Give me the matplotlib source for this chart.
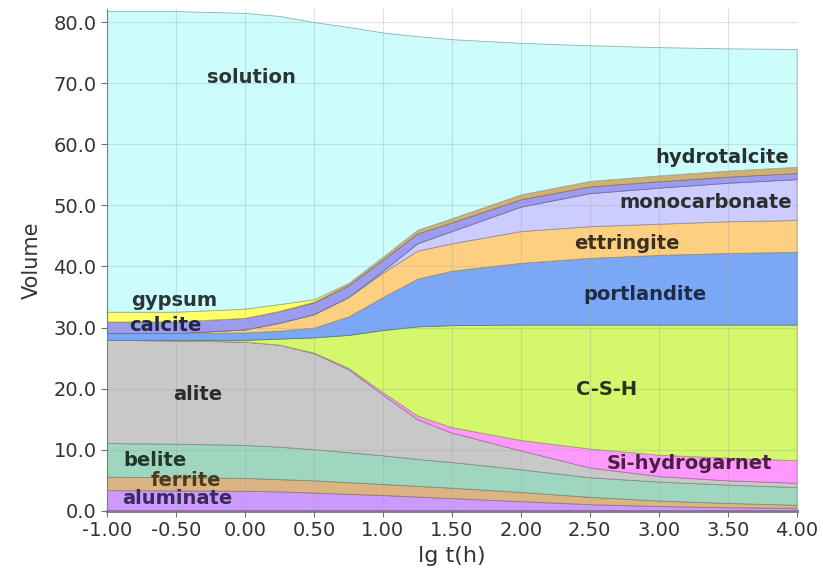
import matplotlib
matplotlib.use("Agg")
import matplotlib.pyplot as plt
import matplotlib.colors as mcolors
import numpy as np

# lg t(h)
lg_t = [-1.0, -0.5, 0.0, 0.25, 0.5, 0.75, 1.0, 1.25, 1.5, 2.0, 2.5, 3.0, 3.5, 4.0]

# phase volumes (stacked from the bottom)
aluminate = [3.4, 3.35, 3.3, 3.2, 3.0, 2.8, 2.6, 2.35, 2.1, 1.6, 1.1, 0.8, 0.6, 0.5]
ferrite = [2.2, 2.15, 2.1, 2.0, 2.0, 1.9, 1.8, 1.75, 1.7, 1.5, 1.2, 0.9, 0.7, 0.5]
belite = [5.5, 5.5, 5.4, 5.3, 5.1, 4.9, 4.7, 4.4, 4.2, 3.7, 3.2, 3.1, 3.0, 2.9]
alite = [16.9, 16.9, 16.9, 16.7, 15.7, 13.6, 9.9, 6.5, 4.8, 3.1, 1.6, 0.9, 0.7, 0.7]
si_hydrogarnet = [0, 0, 0, 0, 0.1, 0.2, 0.4, 0.6, 0.9, 1.7, 3.1, 3.5, 3.7, 3.7]
csh = [0, 0.1, 0.3, 1.0, 2.5, 5.4, 10.2, 14.6, 16.7, 18.9, 20.3, 21.3, 21.8, 22.2]
portlandite = [1.1, 1.1, 1.2, 1.3, 1.6, 3.0, 5.4, 7.8, 8.9, 10.1, 10.9, 11.4, 11.7, 11.9]
ettringite = [0, 0, 0.5, 1.3, 2.2, 3.2, 4.0, 4.6, 4.5, 5.2, 5.2, 5.1, 5.2, 5.2]
monocarbonate = [0, 0, 0, 0, 0, 0, 0.3, 1.2, 2.0, 4.0, 5.4, 5.9, 6.3, 6.7]
calcite = [1.9, 1.9, 1.9, 1.9, 1.9, 1.9, 1.8, 1.6, 1.4, 1.2, 1.1, 1.05, 1.0, 1.0]
hydrotalcite = [0, 0, 0, 0.05, 0.15, 0.3, 0.5, 0.6, 0.7, 0.8, 0.9, 0.95, 1.0, 1.0]
gypsum = [1.6, 1.6, 1.5, 1.1, 0.4, 0.1, 0, 0, 0, 0, 0, 0, 0, 0]
solution = [49.2, 49.2, 48.4, 47.15, 45.35, 41.9, 36.7, 31.7, 29.3, 24.8, 22.2, 21.0, 20.0, 19.3]

layers = [aluminate, ferrite, belite, alite, si_hydrogarnet, csh, portlandite,
          ettringite, monocarbonate, calcite, hydrotalcite, gypsum, solution]
colors = ["#cc99ff", "#dcb482", "#9fd6bf", "#c8c8c8", "#ff99ff", "#d4f76c",
          "#7ba7f7", "#fdcf80", "#ccccff", "#9b9cf0", "#d2b073", "#ffff66",
          "#cdfcfc"]

# labels: text, x, y, colour
labels = [
    ("solution", 0.05, 70.9, "#2b3535"),
    ("gypsum", -0.51, 34.4, "#2b3535"),
    ("calcite", -0.58, 30.4, "#252545"),
    ("alite", -0.34, 19.1, "#2b2b2b"),
    ("belite", -0.65, 8.2, "#203828"),
    ("ferrite", -0.43, 4.9, "#4a3a20"),
    ("aluminate", -0.49, 2.0, "#3a2a5a"),
    ("hydrotalcite", 3.46, 57.8, "#2a3030"),
    ("monocarbonate", 3.34, 50.4, "#2a3030"),
    ("ettringite", 2.77, 43.7, "#3a3020"),
    ("portlandite", 2.90, 35.4, "#1f2a45"),
    ("C-S-H", 2.62, 19.8, "#2b3020"),
    ("Si-hydrogarnet", 3.22, 7.7, "#4a2040"),
]

fig = plt.figure(figsize=(8.23, 5.76), dpi=100)
ax = fig.add_axes([0.130, 0.113, 0.838, 0.872])

polys = ax.stackplot(lg_t, *layers, colors=colors, linewidth=0.6)
for p, c in zip(polys, colors):
    rgb = np.array(mcolors.to_rgb(c)) * 0.7
    p.set_edgecolor(rgb)

ax.set_xlim(-1, 4)
ax.set_ylim(0, 82.2)
ax.set_xticks(np.arange(-1, 4.01, 0.5))
ax.set_yticks(np.arange(0, 80.1, 10))
ax.xaxis.set_major_formatter(matplotlib.ticker.FormatStrFormatter("%.2f"))
ax.yaxis.set_major_formatter(matplotlib.ticker.FormatStrFormatter("%.1f"))

ax.grid(True, color="#a0a0a0", alpha=0.3, linewidth=0.8)
ax.set_axisbelow(False)

for side in ["top", "right"]:
    ax.spines[side].set_visible(False)
ax.spines["left"].set_color("#707070")
ax.spines["bottom"].set_color("#8a6f9a")
ax.spines["bottom"].set_linewidth(2)
ax.tick_params(colors="#707070", labelcolor="#333333", labelsize=14, length=4)

ax.set_xlabel("lg t(h)", fontsize=16, color="#333333", labelpad=4)
ax.set_ylabel("Volume", fontsize=15, color="#333333", labelpad=8)

for text, x, y, col in labels:
    ax.text(x, y, text, ha="center", va="center", fontsize=14,
            fontweight="bold", color=col)

fig.savefig("out.png", dpi=100)
